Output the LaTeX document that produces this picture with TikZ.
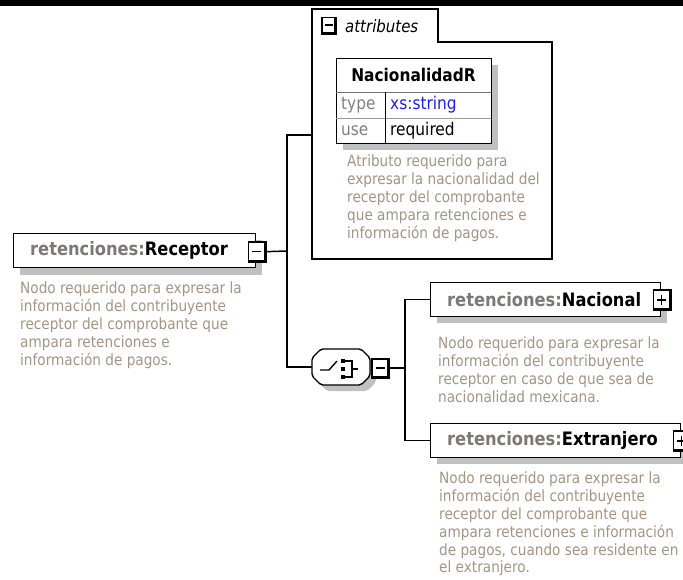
\documentclass[tikz,border=0pt]{standalone}
\usepackage{fontspec}
\setmainfont{DejaVu Sans}[FakeStretch=0.88]
\definecolor{pfx}{RGB}{125,120,118}
\definecolor{desccol}{RGB}{165,148,130}
\definecolor{shadowc}{RGB}{192,192,192}
\definecolor{xsblue}{RGB}{30,30,235}
\begin{document}
\begin{tikzpicture}[x=1pt,y=-1pt,
  box/.style={draw=black, line width=1.4pt, fill=white, minimum height=34pt, inner sep=0pt, anchor=north west},
  ttl/.style={anchor=west, inner sep=0pt, font=\fontsize{18.5}{20}\selectfont\bfseries},
  desc/.style={anchor=north west, inner sep=0pt, align=left, text=desccol, font=\fontsize{15.5}{17.8}\selectfont},
  conn/.style={line width=1.5pt},
  icon/.style={draw=black, line width=1.7pt, fill=white, minimum width=16pt, minimum height=19pt, inner sep=0pt},
  thickedge/.style={line width=2.8pt},
  sign/.style={line width=1.6pt},
  cell/.style={anchor=west, inner sep=0pt, font=\fontsize{17.5}{20}\selectfont}
]
\useasboundingbox (0,0) rectangle (683,580);
\fill[black] (0,0) rectangle (683,6);

% ---------- attributes box ----------
\draw[line width=1.4pt, fill=white] (312,9) -- (438,9) -- (438,42) -- (552,42) -- (552,259) -- (312,259) -- cycle;
\coordinate (attin) at (312,135);
\node[icon, minimum width=13pt, minimum height=15pt] (atticon) at (328.5,25) {};
\draw[sign] ([xshift=-4pt]atticon.center) -- ([xshift=4pt]atticon.center);
\draw[thickedge] (atticon.south west) -- (atticon.south east) -- (atticon.north east);
\node[anchor=west, inner sep=0pt, font=\fontsize{17}{20}\selectfont\itshape] (attlbl) at (345,26) {attributes};

% table
\fill[shadowc] (343,65) rectangle (498,150);
\node[draw=black, line width=1.4pt, fill=white, minimum width=155pt, minimum height=85pt, inner sep=0pt, anchor=north west] (tbl) at (336,58) {};
\draw[black!55, line width=0.9pt] (336,92) -- (491,92);
\draw[black!40, line width=0.9pt] (336,118) -- (491,118);
\draw[line width=1pt] (385,92) -- (385,143);
\node[inner sep=0pt, font=\fontsize{17.5}{20}\selectfont\bfseries] (nacr) at (413.5,75) {NacionalidadR};
\node[cell, text=gray] (typek) at (341,105) {type};
\node[cell, text=xsblue] (typev) at (390,105) {xs:string};
\node[cell, text=gray] (usek) at (341,131) {use};
\node[cell] (usev) at (390,131) {required};
\node[desc] (attd) at (347,155) {Atributo requerido para\\expresar la nacionalidad del\\receptor del comprobante\\que ampara retenciones e\\información de pagos.};

% ---------- Receptor ----------
\fill[shadowc] (20,240) rectangle (262,275);
\node[box, minimum width=242pt] (rec) at (13,233) {};
\node[ttl] (rect) at ([xshift=17pt]rec.west) {\textcolor{pfx}{retenciones:}Receptor};
\node[icon] (recicon) at ([yshift=-1pt]rec.east) {};
\draw[sign] ([xshift=-4.5pt]recicon.center) -- ([xshift=4.5pt]recicon.center);
\draw[thickedge] (recicon.south west) -- (recicon.south east) -- (recicon.north east);
\node[desc] (recd) at (20,282) {Nodo requerido para expresar la\\información del contribuyente\\receptor del comprobante que\\ampara retenciones e\\información de pagos.};

% ---------- choice ----------
\fill[shadowc, rounded corners=2pt] (318,364) -- (327,355) -- (367,355) -- (376,364) -- (376,382) -- (367,391) -- (327,391) -- (318,382) -- cycle;
\draw[line width=1.4pt, fill=white, rounded corners=2pt] (312,358) -- (321,349) -- (361,349) -- (370,358) -- (370,376) -- (361,385) -- (321,385) -- (312,376) -- cycle;
\node[minimum width=58pt, minimum height=36pt, inner sep=0pt] (ch) at (341,367) {};
\draw[line width=1.4pt] (320,370) -- (329,370) -- (337,361);
\fill (340.5,358.5) rectangle (345,363);
\fill (340.5,366.5) rectangle (345,371);
\fill (340.5,374.5) rectangle (345,379);
\draw[line width=1.3pt] (345,361) -- (352,361) -- (352,377) -- (345,377);
\draw[line width=1.3pt] (352,369) -- (358,369);
\node[icon, minimum width=16pt, minimum height=18pt] (chicon) at (380,368) {};
\draw[sign] ([xshift=-4.5pt]chicon.center) -- ([xshift=4.5pt]chicon.center);
\draw[thickedge] (chicon.south west) -- (chicon.south east) -- (chicon.north east);

% ---------- Nacional ----------
\fill[shadowc] (437,289) rectangle (667,323);
\node[box, minimum width=230pt] (nac) at (430,282) {};
\node[ttl] (nact) at ([xshift=17pt]nac.west) {\textcolor{pfx}{retenciones:}Nacional};
\node[icon] (nacicon) at (nac.east) {};
\draw[sign] ([xshift=-4.5pt]nacicon.center) -- ([xshift=4.5pt]nacicon.center);
\draw[sign] ([yshift=-5pt]nacicon.center) -- ([yshift=5pt]nacicon.center);
\draw[thickedge] (nacicon.south west) -- (nacicon.south east) -- (nacicon.north east);
\node[desc] (nacd) at (438,337) {Nodo requerido para expresar la\\información del contribuyente\\receptor en caso de que sea de\\nacionalidad mexicana.};

% ---------- Extranjero ----------
\fill[shadowc] (437,430) rectangle (690,464);
\node[box, minimum width=250pt] (ext) at (430,423) {};
\node[ttl] (extt) at ([xshift=17pt]ext.west) {\textcolor{pfx}{retenciones:}Extranjero};
\node[icon] (exticon) at (ext.east) {};
\draw[sign] ([xshift=-4.5pt]exticon.center) -- ([xshift=4.5pt]exticon.center);
\draw[sign] ([yshift=-5pt]exticon.center) -- ([yshift=5pt]exticon.center);
\draw[thickedge] (exticon.south west) -- (exticon.south east) -- (exticon.north east);
\node[desc] (extd) at (439,472) {Nodo requerido para expresar la\\información del contribuyente\\receptor del comprobante que\\ampara retenciones e información\\de pagos, cuando sea residente en\\el extranjero.};

% ---------- connectors ----------
\coordinate (j1) at (287,251);
\coordinate (j2) at (405,368);
\draw[conn] (recicon.east) -- (j1);
\draw[conn] (attin) -| (j1) |- (ch.west);
\draw[conn] (chicon.east) -- (j2);
\draw[conn] (nac.west) -| (j2) |- (ext.west);
\end{tikzpicture}
\end{document}
